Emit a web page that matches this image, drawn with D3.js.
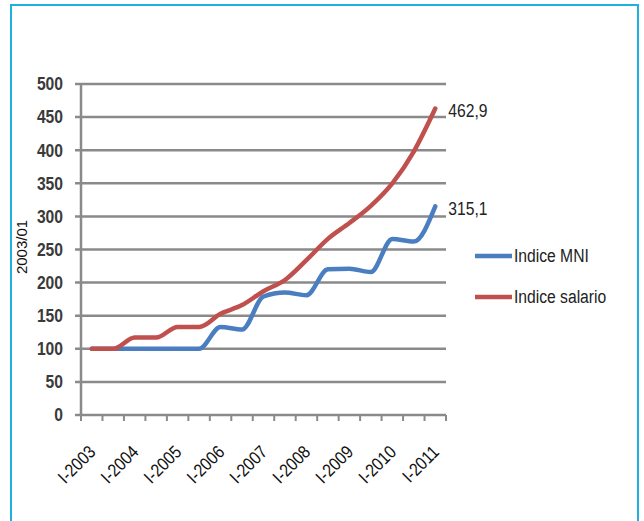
<!DOCTYPE html>
<html><head><meta charset="utf-8">
<script src="https://cdn.jsdelivr.net/npm/d3@7"></script>
<style>
html,body{margin:0;padding:0;background:#fff;}
svg{display:block;}
</style>
</head><body>
<svg id="c" width="644" height="521"></svg>
<script>
const categories = ["I-2003","II-2003","I-2004","II-2004","I-2005","II-2005","I-2006","II-2006","I-2007","II-2007","I-2008","II-2008","I-2009","II-2009","I-2010","II-2010","I-2011"];
const mniValues = [100,100,100,100,100,100,133,129,179,185,181,220,221,216,266,262,315.1];
const salarioValues = [100,100,117,117,133,133,153,166,187,204,234,266,290,316,350,398,462.9];
const yTicks = [0,50,100,150,200,250,300,350,400,450,500];
const seriesNames = ["Indice MNI","Indice salario"];
const endLabels = ["315,1","462,9"];
const yTitle = "2003/01";

const svg = d3.select("#c");
const FONT = "'Liberation Sans',Arial,sans-serif";
const SX = 0.87; // condensed look

// frame
svg.append("rect").attr("x",11).attr("y",5).attr("width",627).attr("height",540)
  .attr("fill","#fff").attr("stroke","#1fb0e2").attr("stroke-width",2);

const x = d3.scaleBand().domain(categories).range([81,446]).padding(0);
const y = d3.scaleLinear().domain([0,500]).range([415,84]);
const cx = d => x(d) + x.bandwidth()/2;

// gridlines
svg.append("g").selectAll("line").data(yTicks).join("line")
  .attr("x1",75).attr("x2",446).attr("y1",d=>y(d)).attr("y2",d=>y(d))
  .attr("stroke","#8a8a8a").attr("stroke-width",2.5);

// y axis line
svg.append("line").attr("x1",81).attr("x2",81).attr("y1",y(500)).attr("y2",y(0)+1)
  .attr("stroke","#8a8a8a").attr("stroke-width",2.5);

// x tick marks at category boundaries
const bounds = categories.map(c=>x(c)).concat([x(categories[categories.length-1])+x.bandwidth()]);
svg.append("g").selectAll("line").data(bounds).join("line")
  .attr("x1",d=>d).attr("x2",d=>d).attr("y1",y(0)).attr("y2",y(0)+6)
  .attr("stroke","#8a8a8a").attr("stroke-width",2);

// y tick labels
svg.append("g").selectAll("text").data(yTicks).join("text")
  .attr("transform",d=>`translate(63,${y(d)}) scale(${SX},1)`).attr("dy","0.35em")
  .attr("text-anchor","end").attr("font-family",FONT).attr("font-weight","bold")
  .attr("font-size",18).attr("fill","#3a3a3a").text(d=>d);

// y title
svg.append("text").attr("transform","translate(27,247) rotate(-90)")
  .attr("text-anchor","middle").attr("font-family",FONT)
  .attr("font-size",15).attr("fill","#111").text(yTitle);

// x labels
svg.append("g").selectAll("text").data(categories.filter((c,i)=>i%2===0)).join("text")
  .attr("transform",d=>`translate(${cx(d)+5},${y(0)+38}) rotate(-45) scale(${SX},1)`)
  .attr("text-anchor","end").attr("font-family",FONT)
  .attr("font-size",18).attr("fill","#111").text(d=>d);

// lines
const line = vals => d3.line().x((v,i)=>cx(categories[i])).y(v=>y(v)).curve(d3.curveMonotoneX)(vals);
const colors = ["#4a7ec0","#c0504d"];
[mniValues, salarioValues].forEach((vals,k)=>{
  svg.append("path").attr("d",line(vals)).attr("fill","none")
    .attr("stroke",colors[k]).attr("stroke-width",4.5).attr("stroke-linejoin","round").attr("stroke-linecap","round");
});

// end labels
[mniValues, salarioValues].forEach((vals,k)=>{
  const last = categories.length-1;
  svg.append("text").attr("transform",`translate(${cx(categories[last])+13},${y(vals[last])+2}) scale(${SX},1)`).attr("dy","0.35em")
    .attr("font-family",FONT).attr("font-size",18).attr("fill","#222").text(endLabels[k]);
});

// legend
const legY = [256,297];
seriesNames.forEach((n,k)=>{
  svg.append("line").attr("x1",475).attr("x2",512).attr("y1",legY[k]).attr("y2",legY[k])
    .attr("stroke",colors[k]).attr("stroke-width",4.5);
  svg.append("text").attr("transform",`translate(514,${legY[k]}) scale(${SX},1)`).attr("dy","0.35em")
    .attr("font-family",FONT).attr("font-size",18).attr("fill","#222").text(n);
});
</script>
</body></html>
